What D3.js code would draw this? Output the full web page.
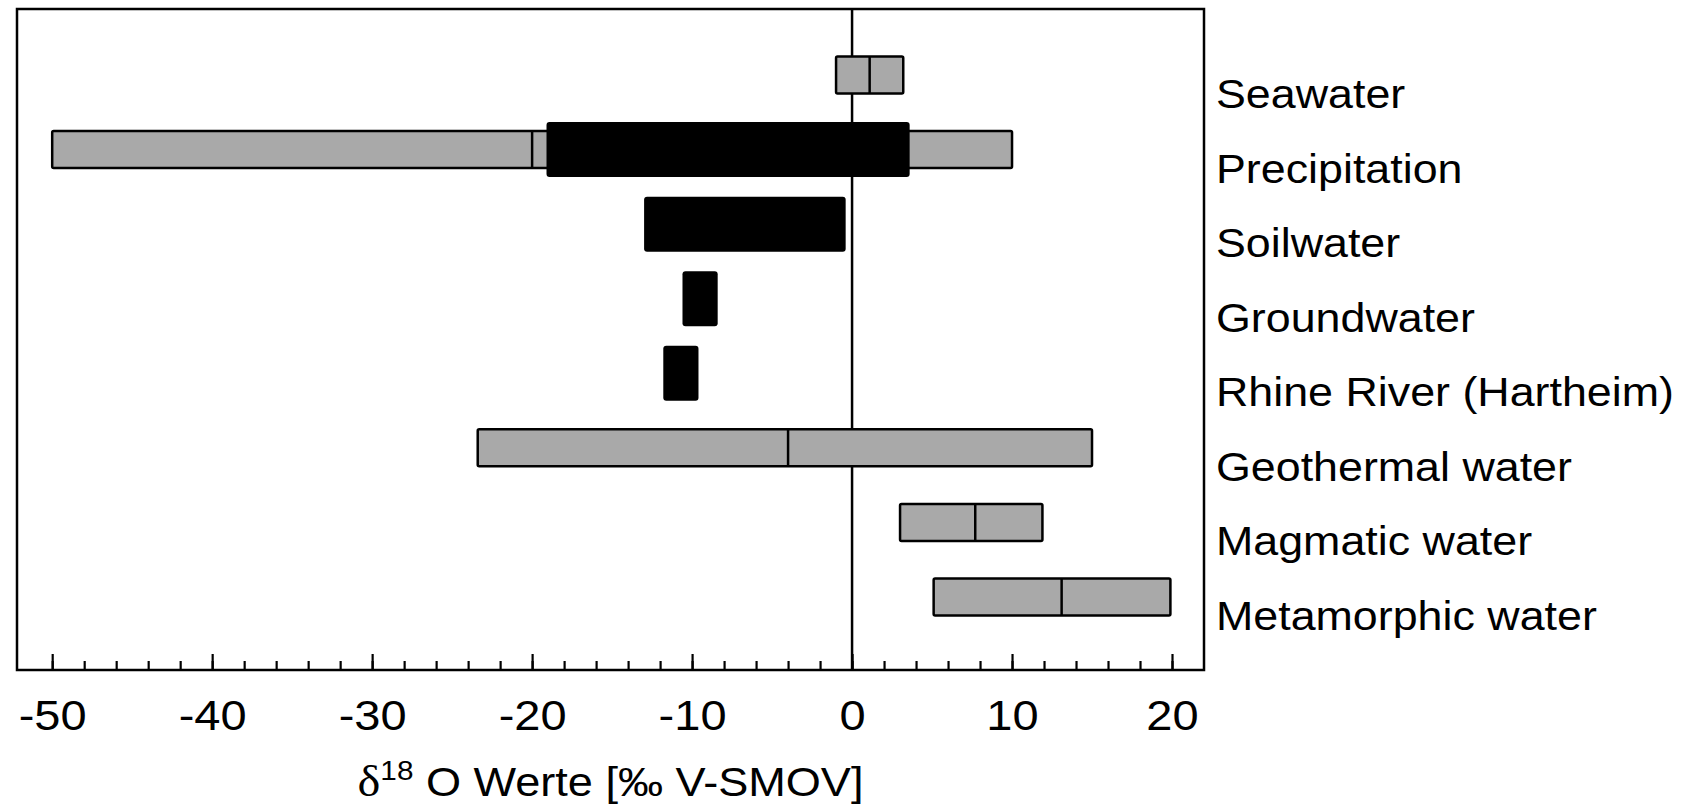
<!DOCTYPE html>
<meta charset="utf-8">
<script src="https://d3js.org/d3.v7.min.js"></script>
<style>
  body { margin: 0; background: #fff; }
  text { font-family: "Liberation Sans", Arial, sans-serif; fill: #000; }
</style>
<div id="chart"></div>
<script>
  // rows, top to bottom
  var sources = ["Seawater", "Precipitation", "Soilwater", "Groundwater",
    "Rhine River (Hartheim)", "Geothermal water", "Magmatic water", "Metamorphic water"];
  // grey ranges (min, median line, max), null = none
  var greyMin = [-1.0, -50, null, null, null, -23.4, 3.0, 5.1];
  var greyMid = [1.1, -20, null, null, null, -4.0, 7.7, 13.1];
  var greyMax = [3.2, 10.0, null, null, null, 15.0, 11.9, 19.9];
  // black ranges (measured values)
  var blackMin = [null, -19.1, -13.0, -10.6, -11.8, null, null, null];
  var blackMax = [null, 3.6, -0.4, -8.4, -9.6, null, null, null];
  var majorTicks = [-50, -40, -30, -20, -10, 0, 10, 20];

  var W = 1688, H = 808;
  var frame = { left: 17, right: 1204, top: 9, bottom: 670 };

  var svg = d3.select("#chart").append("svg")
    .attr("width", W)
    .attr("height", H);

  var x = d3.scaleLinear()
    .domain([-52.2, 22])
    .range([frame.left, frame.right]);

  var y = d3.scalePoint()
    .domain(sources)
    .range([75, 597]);

  var greyH = 37, blackH = 55;

  // zero line (behind bars)
  svg.append("line")
    .attr("x1", x(0)).attr("x2", x(0))
    .attr("y1", frame.top).attr("y2", frame.bottom)
    .attr("stroke", "#000")
    .attr("stroke-width", 2.5);

  var rows = sources.map(function (s, i) {
    return { name: s, gMin: greyMin[i], gMid: greyMid[i], gMax: greyMax[i], bMin: blackMin[i], bMax: blackMax[i] };
  });

  // grey boxes
  var grey = rows.filter(function (d) { return d.gMin != null; });
  svg.append("g").selectAll("rect")
    .data(grey)
    .enter()
    .append("rect")
    .attr("x", function (d) { return x(d.gMin); })
    .attr("y", function (d) { return y(d.name) - greyH / 2; })
    .attr("width", function (d) { return x(d.gMax) - x(d.gMin); })
    .attr("height", greyH)
    .attr("rx", 1.5)
    .attr("fill", "#a9a9a9")
    .attr("stroke", "#000")
    .attr("stroke-width", 2.5);

  svg.append("g").selectAll("line")
    .data(grey)
    .enter()
    .append("line")
    .attr("x1", function (d) { return x(d.gMid); })
    .attr("x2", function (d) { return x(d.gMid); })
    .attr("y1", function (d) { return y(d.name) - greyH / 2; })
    .attr("y2", function (d) { return y(d.name) + greyH / 2; })
    .attr("stroke", "#000")
    .attr("stroke-width", 2.5);

  // black boxes
  svg.append("g").selectAll("rect")
    .data(rows.filter(function (d) { return d.bMin != null; }))
    .enter()
    .append("rect")
    .attr("x", function (d) { return x(d.bMin); })
    .attr("y", function (d) { return y(d.name) - blackH / 2; })
    .attr("width", function (d) { return x(d.bMax) - x(d.bMin); })
    .attr("height", blackH)
    .attr("rx", 3)
    .attr("fill", "#000");

  // frame
  svg.append("rect")
    .attr("x", frame.left)
    .attr("y", frame.top)
    .attr("width", frame.right - frame.left)
    .attr("height", frame.bottom - frame.top)
    .attr("fill", "none")
    .attr("stroke", "#000")
    .attr("stroke-width", 2.5);

  // minor ticks every 2
  var minor = svg.append("g")
    .attr("transform", "translate(0," + frame.bottom + ")")
    .call(d3.axisBottom(x).tickValues(d3.range(-50, 21, 2)).tickSizeInner(-9).tickSizeOuter(0).tickFormat(""));
  minor.select(".domain").remove();

  var major = svg.append("g")
    .attr("transform", "translate(0," + frame.bottom + ")")
    .call(d3.axisBottom(x).tickValues(majorTicks).tickSizeInner(-16).tickSizeOuter(0).tickPadding(30)
      .tickFormat(function (d) { return String(d); }));
  major.select(".domain").remove();
  svg.selectAll(".tick line").attr("stroke-width", 2.2);
  major.selectAll("text")
    .attr("transform", "scale(1.12,1)")
    .style("font-size", "42px")
    .style("font-family", "'Liberation Sans', Arial, sans-serif");

  // row labels
  svg.append("g").selectAll("text")
    .data(sources)
    .enter()
    .append("text")
    .attr("transform", function (d) { return "translate(1216," + (y(d) + 33) + ") scale(1.12,1)"; })
    .style("font-size", "40px")
    .text(function (d) { return d; });

  // axis title
  var title = svg.append("text")
    .attr("transform", "translate(" + ((frame.left + frame.right) / 2) + ",796) scale(1.1,1)")
    .attr("text-anchor", "middle")
    .style("font-size", "41px");
  title.append("tspan").style("font-family", "'Liberation Serif', serif").style("font-size", "44px").text("δ");
  title.append("tspan").attr("dy", -16).style("font-size", "27px").text("18");
  title.append("tspan").attr("dy", 16).text(" O Werte [‰ V-SMOV]");
</script>
